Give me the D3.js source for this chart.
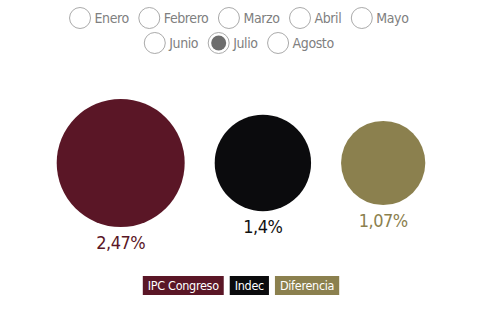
<!DOCTYPE html>
<html>
<head>
<meta charset="utf-8">
<script src="https://cdn.jsdelivr.net/npm/d3@7"></script>
<style>
  body { margin: 0; background: #fff; }
  svg { font-family: "Liberation Sans Narrow", "DejaVu Sans Condensed", "Roboto", sans-serif; }
</style>
</head>
<body>
<div id="chart"></div>
<script>
// months shown in the selector, and which one is picked
var months = ["Enero", "Febrero", "Marzo", "Abril", "Mayo", "Junio", "Julio", "Agosto"];
var monthRows = [5, 3];           // how many buttons on each row
var selectedMonth = "Julio";

// the three figures for the selected month
var series = ["IPC Congreso", "Indec", "Diferencia"];
var values = [2.47, 1.4, 1.07];
var labels = ["2,47%", "1,4%", "1,07%"];
var colors = ["#5a1626", "#0b0b0d", "#8b804e"];

const width = 478, height = 315;

const svg = d3.select("#chart").append("svg")
    .attr("width", width)
    .attr("height", height);

// ---- month selector (radio look) ----
const radioR = 10.5, radioGap = 4, itemGap = 10;
var start = 0;
monthRows.forEach(function (n, row) {
    var items = months.slice(start, start + n);
    start += n;
    var g = svg.append("g");
    var x = 0;
    items.forEach(function (m) {
        var it = g.append("g").attr("transform", `translate(${x},0)`);
        it.append("circle")
            .attr("cx", radioR).attr("cy", 0).attr("r", radioR)
            .attr("fill", "#fff")
            .attr("stroke", "#aaa").attr("stroke-width", 1);
        if (m === selectedMonth) {
            it.append("circle")
                .attr("cx", radioR).attr("cy", 0).attr("r", radioR - 3)
                .attr("fill", "#6d6d6d");
        }
        var t = it.append("text")
            .attr("x", radioR * 2 + radioGap).attr("y", 0)
            .attr("dy", "0.35em")
            .attr("font-size", 14)
            .attr("letter-spacing", -0.4)
            .attr("fill", "#808080")
            .text(m);
        x += radioR * 2 + radioGap + t.node().getComputedTextLength() + itemGap;
    });
    x -= itemGap;
    g.attr("transform", `translate(${(width - x) / 2},${18 + row * 25})`);
});

// ---- circles, area proportional to value ----
const rScale = d3.scaleSqrt().domain([0, d3.max(values)]).range([0, 64]);
const circleGap = 30, cy = 163;
var total = d3.sum(values, v => 2 * rScale(v)) + circleGap * (values.length - 1);
var cx = [];
var acc = (width - total) / 2 + 2;
values.forEach(function (v) {
    cx.push(acc + rScale(v));
    acc += 2 * rScale(v) + circleGap;
});

const bubbles = svg.append("g").selectAll("g")
    .data(values)
    .enter().append("g");

bubbles.append("circle")
    .attr("cx", (d, i) => cx[i])
    .attr("cy", cy)
    .attr("r", d => rScale(d))
    .attr("fill", (d, i) => colors[i]);

bubbles.append("text")
    .attr("x", (d, i) => cx[i])
    .attr("y", d => cy + rScale(d) + 22)
    .attr("text-anchor", "middle")
    .attr("font-size", 18)
    .attr("letter-spacing", -0.5)
    .attr("fill", (d, i) => i === 1 ? "#111" : colors[i])
    .text((d, i) => labels[i]);

// ---- legend ----
const legend = svg.append("g");
var lx = 0;
series.forEach(function (s, i) {
    var it = legend.append("g").attr("transform", `translate(${lx},0)`);
    var rect = it.append("rect").attr("height", 19).attr("fill", colors[i]);
    var t = it.append("text")
        .attr("x", 5).attr("y", 9.5).attr("dy", "0.35em")
        .attr("font-size", 12.5)
        .attr("letter-spacing", -0.3)
        .attr("fill", "#fff")
        .text(s);
    var w = t.node().getComputedTextLength() + 10;
    rect.attr("width", w);
    lx += w + 6;
});
lx -= 6;
legend.attr("transform", `translate(${(width - lx) / 2 + 2},276)`);
</script>
</body>
</html>
